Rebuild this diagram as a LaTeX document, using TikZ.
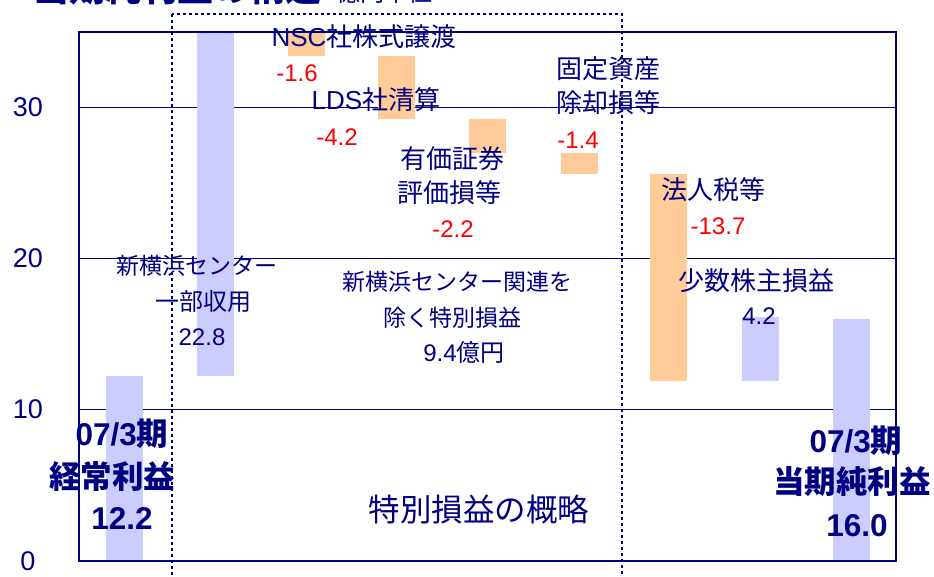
\documentclass[tikz,border=0pt]{standalone}
\usepackage{fontspec}
\setmainfont{Liberation Sans}
\newfontfamily\jp{Noto Sans CJK JP}
\definecolor{nv}{HTML}{000080}
\definecolor{lav}{HTML}{CCCCFF}
\definecolor{org}{HTML}{FFCC99}
\definecolor{rd}{HTML}{FF0000}
\begin{document}
\begin{tikzpicture}[x=1pt,y=-1pt,
  lbl/.style={text=nv, inner sep=0, font=\fontsize{26}{30}\selectfont},
  num/.style={text=nv, inner sep=0, font=\fontsize{24}{28}\selectfont},
  neg/.style={text=rd, inner sep=0, font=\fontsize{24}{28}\selectfont},
  big/.style={text=nv, inner sep=0, font=\fontsize{31.5}{34}\selectfont\bfseries},
  tick/.style={text=nv, inner sep=0, font=\fontsize{27}{30}\selectfont},
  posbar/.style={fill=lav, draw=none},
  negbar/.style={fill=org, draw=none},
  grid/.style={draw=nv, line width=1.1pt},
  frame/.style={draw=nv, line width=2pt},
  dotbox/.style={draw=nv, line width=2.6pt, dash pattern=on 2.6pt off 3.4pt}]
\useasboundingbox (0,0) rectangle (934,576);
% title (cropped)
\node[text=nv, inner sep=0, anchor=base west, font=\fontsize{36}{40}\selectfont\bfseries\jp] (title) at (33,1) {当期純利益の構造};
\node[text=nv, inner sep=0, anchor=base west, font=\fontsize{24}{28}\selectfont\jp] (unit) at (336,1) {億円単位};
% grid
\draw[grid] (79,107.1) -- (896,107.1);
\draw[grid] (79,258.4) -- (896,258.4);
\draw[grid] (79,409.7) -- (896,409.7);
% bars
\fill[posbar] (106,376.4) rectangle (143,561);
\fill[posbar] (197,31.5) rectangle (234,376.4);
\fill[negbar] (288,31.5) rectangle (325,55.7);
\fill[negbar] (378,55.7) rectangle (415,119.2);
\fill[negbar] (469,119.2) rectangle (506,152.5);
\fill[negbar] (561,152.5) rectangle (598,173.7);
\fill[negbar] (650,173.7) rectangle (687,381.0);
\fill[posbar] (742,317.4) rectangle (779,381.0);
\fill[posbar] (833,318.9) rectangle (870,561);
% frame
\draw[frame] (79,31.5) rectangle (896,561);
% dotted box
\draw[dotbox] (172,14) rectangle (622,600);
% ticks
\node[tick] (t30) at (28,107) {30};
\node[tick] (t20) at (28,258) {20};
\node[tick] (t10) at (28,409) {10};
\node[tick] (t0) at (28,561) {0};
% labels
\node[lbl] (nsc) at (364,37) {NSC{\jp 社株式譲渡}};
\node[neg] (nscv) at (297,73) {-1.6};
\node[lbl] (lds) at (376,100) {LDS{\jp 社清算}};
\node[neg] (ldsv) at (337,137) {-4.2};
\node[lbl] (yk1) at (452,159) {\jp 有価証券};
\node[lbl] (yk2) at (449,193) {\jp 評価損等};
\node[neg] (ykv) at (453,229) {-2.2};
\node[lbl] (ko1) at (608,69) {\jp 固定資産};
\node[lbl] (ko2) at (608,103) {\jp 除却損等};
\node[neg] (kov) at (578,140) {-1.4};
\node[lbl] (ho) at (713,190) {\jp 法人税等};
\node[neg] (hov) at (718,226) {-13.7};
\node[lbl] (sh) at (756,281) {\jp 少数株主損益};
\node[num] (shv) at (759,316) {4.2};
\node[lbl, font=\fontsize{23}{26}\selectfont] (sy1) at (197,266) {\jp 新横浜センター};
\node[num] (sy2) at (203,301) {\jp 一部収用};
\node[num] (syv) at (202,337) {22.8};
\node[lbl, font=\fontsize{23}{26}\selectfont] (tb1) at (457,282) {\jp 新横浜センター関連を};
\node[lbl, font=\fontsize{23}{26}\selectfont] (tb2) at (452,318) {\jp 除く特別損益};
\node[num] (tbv) at (464,352) {9.4{\jp 億円}};
\node[lbl, font=\fontsize{31.5}{34}\selectfont] (gai) at (479,509) {\jp 特別損益の概略};
\node[big] (k1) at (122,434) {07/3{\jp 期}};
\node[big] (k2) at (112,477) {\jp 経常利益};
\node[big] (k3) at (122,518) {12.2};
\node[big] (j1) at (856,441) {07/3{\jp 期}};
\node[big] (j2) at (852,482) {\jp 当期純利益};
\node[big] (j3) at (857,526) {16.0};
\end{tikzpicture}
\end{document}
